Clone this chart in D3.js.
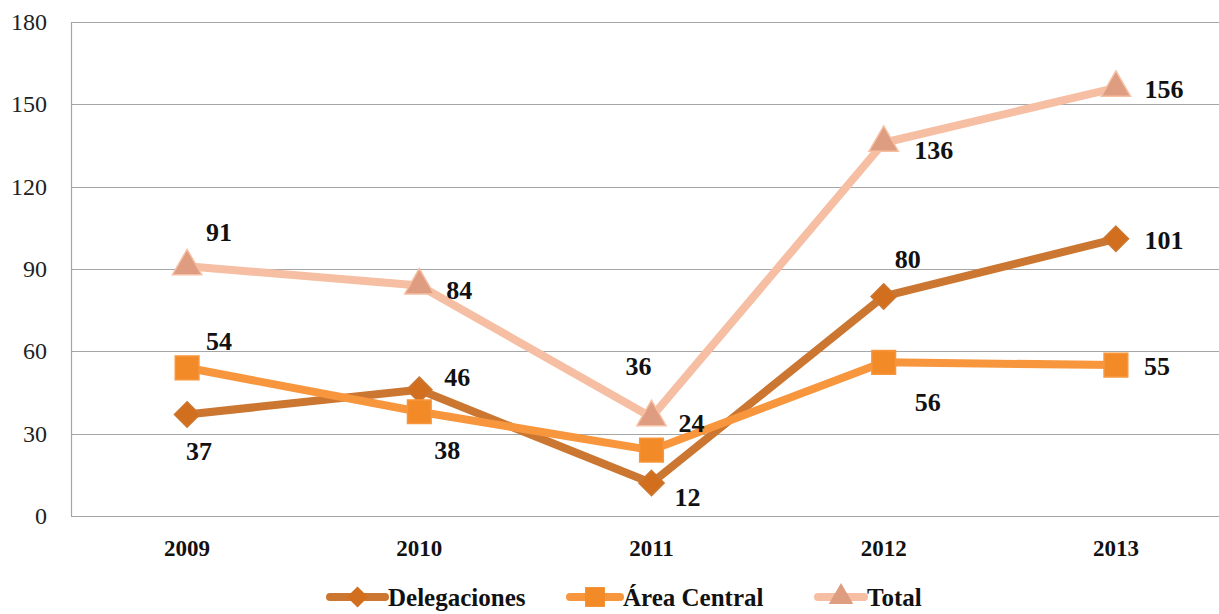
<!DOCTYPE html>
<html>
<head>
<meta charset="utf-8">
<script src="https://cdn.jsdelivr.net/npm/d3@7"></script>
<style>
  body { margin: 0; background: #fff; }
  svg { display: block; }
</style>
</head>
<body>
<svg id="chart"></svg>
<script>
// Data
const years = ["2009", "2010", "2011", "2012", "2013"]
const delegaciones = [37, 46, 12, 80, 101]
const areaCentral = [54, 38, 24, 56, 55]
const total = [91, 84, 36, 136, 156]
const yTicks = [0, 30, 60, 90, 120, 150, 180]

// Label offsets (dx, dy from the point), by series
const labelOffsets = {
    del: [[12, 36], [38, -13], [36, 14], [24, -38], [48, 1]],
    area: [[32, -27], [28, 38], [40, -27], [44, 40], [41, 1]],
    total: [[32, -34], [40, 4], [-13, -51], [50, 7], [48, 1]]
}

const serif = "'Liberation Serif', 'Tinos', 'Times New Roman', serif"

// rotated square for the diamond marker
const diamond = {
    draw(context, size) {
        const r = Math.sqrt(size / 2)
        context.moveTo(0, -r)
        context.lineTo(r, 0)
        context.lineTo(0, r)
        context.lineTo(-r, 0)
        context.closePath()
    }
}

const series = [
    { key: "del", name: "Delegaciones", values: delegaciones, line: "#CB7631", marker: "#D26F1E", shape: diamond },
    { key: "area", name: "Área Central", values: areaCentral, line: "#F7963D", marker: "#F28A28", shape: d3.symbolSquare },
    { key: "total", name: "Total", values: total, line: "#F6BEA2", marker: "#DE9C80", shape: d3.symbolTriangle }
]

const W = 1219, H = 614
const margin = { top: 22, left: 71, bottom: 98 }
const plotBottom = H - margin.bottom

const svg = d3.select("#chart").attr("width", W).attr("height", H)

const x = d3.scalePoint()
    .domain(years)
    .range([margin.left, margin.left + 5 * 232.2])
    .padding(0.5)

const y = d3.scaleLinear()
    .domain([0, 180])
    .range([plotBottom, margin.top])

// gridlines
svg.append("g")
    .selectAll("line")
    .data(yTicks)
    .enter()
    .append("line")
    .attr("x1", margin.left)
    .attr("x2", W)
    .attr("y1", d => Math.round(y(d)) + 0.5)
    .attr("y2", d => Math.round(y(d)) + 0.5)
    .attr("stroke", "#A6A6A6")
    .attr("stroke-width", 1.2)

// y axis line
svg.append("line")
    .attr("x1", margin.left + 0.5).attr("x2", margin.left + 0.5)
    .attr("y1", y(180)).attr("y2", y(0))
    .attr("stroke", "#A6A6A6")
    .attr("stroke-width", 1.2)

// y tick labels
svg.append("g")
    .selectAll("text")
    .data(yTicks)
    .enter()
    .append("text")
    .attr("x", 47)
    .attr("y", d => y(d))
    .attr("dy", "0.33em")
    .attr("text-anchor", "end")
    .attr("font-family", serif)
    .attr("font-size", "24px")
    .attr("fill", "#222")
    .text(d => d)

// x tick labels
svg.append("g")
    .selectAll("text")
    .data(years)
    .enter()
    .append("text")
    .attr("x", d => x(d))
    .attr("y", 556)
    .attr("text-anchor", "middle")
    .attr("font-family", serif)
    .attr("font-size", "23px")
    .attr("font-weight", "bold")
    .attr("fill", "#111")
    .text(d => d)

const line = d3.line()
    .x((d, i) => x(years[i]))
    .y(d => y(d))

const markerSize = { del: 320, area: 560, total: 370 }

series.forEach(s => {
    const g = svg.append("g")

    g.append("path")
        .datum(s.values)
        .attr("d", line)
        .attr("fill", "none")
        .attr("stroke", s.line)
        .attr("stroke-width", 8)
        .attr("stroke-linejoin", "round")

    g.selectAll("path.marker")
        .data(s.values)
        .enter()
        .append("path")
        .attr("class", "marker")
        .attr("d", d3.symbol().type(s.shape).size(markerSize[s.key]))
        .attr("transform", (d, i) => "translate(" + x(years[i]) + "," + y(d) + ")")
        .attr("fill", s.marker)
        .attr("stroke", s.line)
        .attr("stroke-width", 1.5)
})

// data labels
series.forEach(s => {
    svg.append("g")
        .selectAll("text")
        .data(s.values)
        .enter()
        .append("text")
        .attr("x", (d, i) => x(years[i]) + labelOffsets[s.key][i][0])
        .attr("y", (d, i) => y(d) + labelOffsets[s.key][i][1])
        .attr("dy", "0.35em")
        .attr("text-anchor", "middle")
        .attr("font-family", serif)
        .attr("font-size", "26px")
        .attr("font-weight", "bold")
        .attr("fill", "#111")
        .text(d => d)
})

// legend
const legendX = [330, 570, 818]
const legendW = [55, 50, 46]
const legendY = 597
series.forEach((s, i) => {
    const g = svg.append("g").attr("transform", "translate(" + legendX[i] + "," + legendY + ")")
    g.append("line")
        .attr("x1", 0).attr("x2", legendW[i])
        .attr("stroke", s.line)
        .attr("stroke-width", 8)
        .attr("stroke-linecap", "round")
    g.append("path")
        .attr("d", d3.symbol().type(s.shape).size(markerSize[s.key] * 0.7))
        .attr("transform", "translate(" + legendW[i] / 2 + ",0)")
        .attr("fill", s.marker)
    g.append("text")
        .attr("x", legendW[i] + 3)
        .attr("dy", "0.35em")
        .attr("font-family", serif)
        .attr("font-size", "25px")
        .attr("font-weight", "bold")
        .attr("fill", "#111")
        .text(s.name)
})
</script>
</body>
</html>
